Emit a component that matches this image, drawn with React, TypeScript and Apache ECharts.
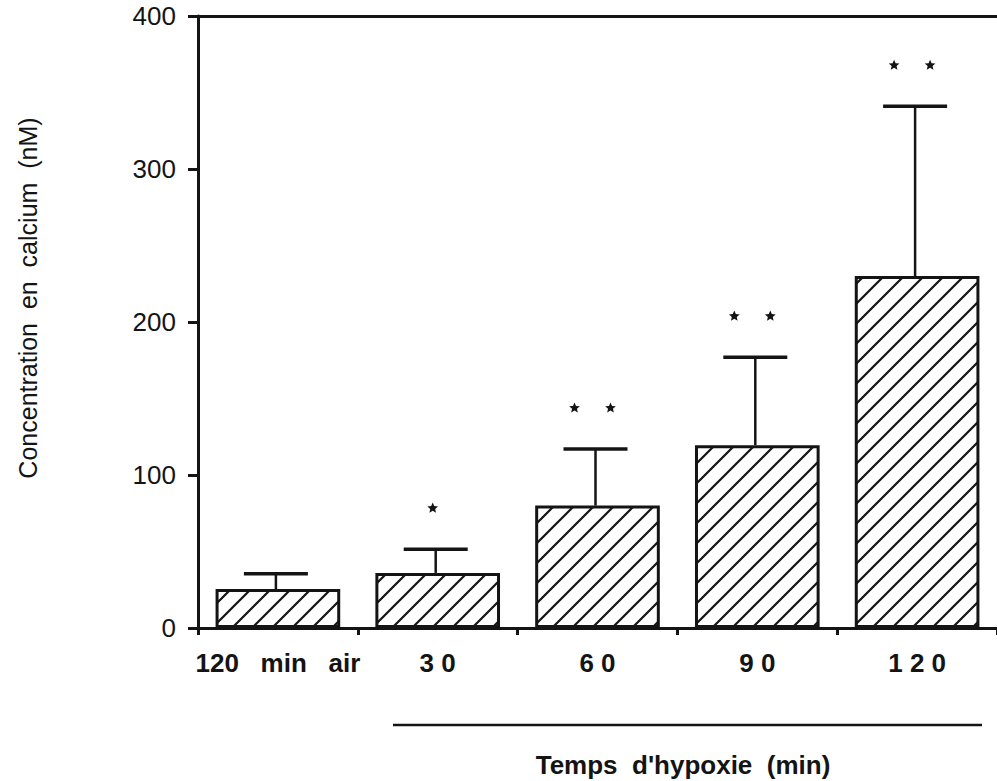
import React, { useEffect, useRef } from "react";
import * as echarts from "echarts";

// Groups: control (air) and durations of hypoxia
const categories = ["120 min air", "30", "60", "90", "120"];
const tickLabels = ["120   min   air", "3 0", "6 0", "9 0", "1 2 0"];
// Mean calcium concentration (nM) and top of the error bar (mean + SEM)
const meanValues = [25.5, 36, 80, 119.5, 230];
const upperValues = [35.5, 51.5, 117, 177, 341];
// Number of significance stars above each group
const starCounts = [0, 1, 2, 2, 2];

const yTitle = "Concentration  en  calcium  (nM)";
const xTitle = "Temps  d'hypoxie  (min)";

const INK = "#141414";
const FONT = "'Liberation Sans', Arial, Helvetica, sans-serif";

function starPoints(cx: number, cy: number, R: number, r: number) {
  const pts: number[][] = [];
  for (let k = 0; k < 10; k++) {
    const a = -Math.PI / 2 + (k * Math.PI) / 5;
    const rad = k % 2 === 0 ? R : r;
    pts.push([cx + rad * Math.cos(a), cy + rad * Math.sin(a)]);
  }
  return pts;
}

// Tile of "/" hatching used to fill the bars
function makeHatch(size: number, width: number) {
  const c = document.createElement("canvas");
  c.width = size;
  c.height = size;
  const ctx = c.getContext("2d")!;
  ctx.fillStyle = "#ffffff";
  ctx.fillRect(0, 0, size, size);
  ctx.strokeStyle = INK;
  ctx.lineWidth = width;
  ctx.lineCap = "square";
  ctx.beginPath();
  ctx.moveTo(0, size);
  ctx.lineTo(size, 0);
  ctx.moveTo(-size / 2, size / 2);
  ctx.lineTo(size / 2, -size / 2);
  ctx.moveTo(size / 2, size * 1.5);
  ctx.lineTo(size * 1.5, size / 2);
  ctx.stroke();
  return c;
}

export default function App() {
  const ref = useRef<HTMLDivElement>(null);

  useEffect(() => {
    if (!ref.current) return;
    const chart = echarts.init(ref.current, null, { renderer: "svg" });

    const errorData = meanValues.map((m, i) => [i, m, upperValues[i], starCounts[i]]);
    const hatch = makeHatch(20, 2.2);

    chart.setOption({
      animation: false,
      backgroundColor: "#ffffff",
      grid: { left: 198, right: -6, top: 16, bottom: 153, containLabel: false },
      xAxis: [
        {
          type: "category",
          data: categories,
          position: "bottom",
          axisLine: { lineStyle: { color: INK, width: 3 } },
          axisTick: {
            show: true,
            alignWithLabel: false,
            length: 7,
            lineStyle: { color: INK, width: 3 },
          },
          axisLabel: {
            interval: 0,
            formatter: (_v: string, i: number) => tickLabels[i],
            color: INK,
            fontSize: 26,
            fontWeight: "bold",
            fontFamily: FONT,
            margin: 22,
          },
        },
        {
          type: "category",
          data: categories,
          position: "top",
          axisLine: { lineStyle: { color: INK, width: 3 } },
          axisTick: { show: false },
          axisLabel: { show: false },
        },
      ],
      yAxis: {
        type: "value",
        min: 0,
        max: 400,
        interval: 100,
        axisLine: { show: true, lineStyle: { color: INK, width: 3 } },
        axisTick: { show: true, length: 10, lineStyle: { color: INK, width: 3 } },
        axisLabel: { color: INK, fontSize: 26, fontFamily: FONT, margin: 22 },
        splitLine: { show: false },
      },
      series: [
        {
          type: "bar",
          data: meanValues,
          barWidth: "78%",
          itemStyle: {
            color: { image: hatch, repeat: "repeat" },
            borderColor: INK,
            borderWidth: 3,
          },
          z: 2,
        },
        {
          type: "custom",
          data: errorData,
          encode: { x: 0, y: [1, 2] },
          z: 3,
          renderItem: (_params: any, api: any) => {
            const idx = api.value(0);
            const base = api.coord([idx, api.value(1)]);
            const top = api.coord([idx, api.value(2)]);
            const n = api.value(3);
            const x = base[0] - 2;
            const children: any[] = [
              {
                type: "line",
                shape: { x1: x, y1: base[1], x2: x, y2: top[1] },
                style: { stroke: INK, lineWidth: 2.5 },
              },
              {
                type: "line",
                shape: { x1: x - 32, y1: top[1], x2: x + 32, y2: top[1] },
                style: { stroke: INK, lineWidth: 3.5 },
              },
            ];
            const sy = top[1] - 41;
            const offsets = n === 1 ? [-3] : n === 2 ? [-21, 15] : [];
            offsets.forEach((dx) => {
              children.push({
                type: "polygon",
                shape: { points: starPoints(x + dx, sy, 5.6, 2.6) },
                style: { fill: INK },
              });
            });
            return { type: "group", children };
          },
        },
      ],
      graphic: [
        {
          type: "text",
          x: 28,
          y: 298,
          rotation: Math.PI / 2,
          style: {
            text: yTitle,
            fill: INK,
            fontSize: 25,
            fontFamily: FONT,
            align: "center",
            verticalAlign: "middle",
          },
        },
        {
          type: "line",
          shape: { x1: 393, y1: 725, x2: 982, y2: 725 },
          style: { stroke: INK, lineWidth: 2.5 },
        },
        {
          type: "text",
          x: 683,
          y: 765,
          style: {
            text: xTitle,
            fill: INK,
            fontSize: 26,
            fontWeight: "bold",
            fontFamily: FONT,
            align: "center",
            verticalAlign: "middle",
          },
        },
      ],
    });

    return () => chart.dispose();
  }, []);

  return (
    <div
      ref={ref}
      style={{ position: "fixed", left: 0, top: 0, width: 997, height: 781, background: "#fff" }}
    />
  );
}
